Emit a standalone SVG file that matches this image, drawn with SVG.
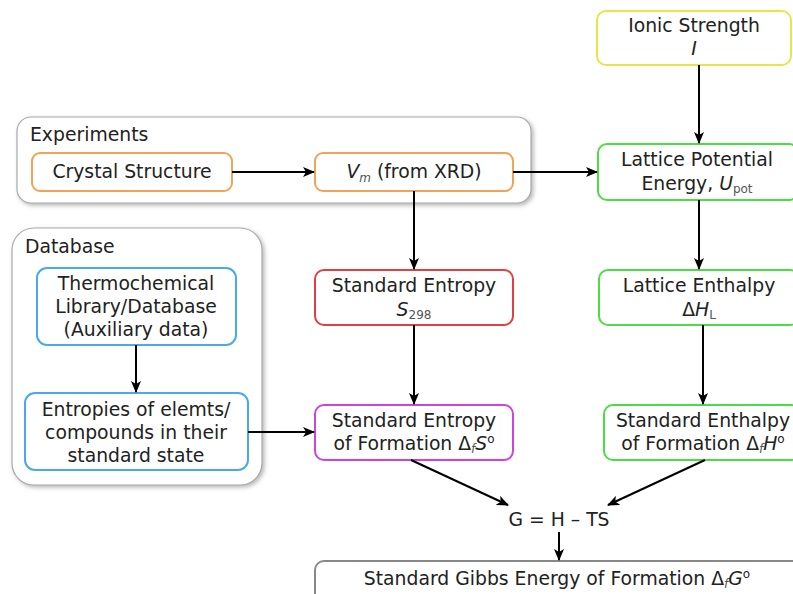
<svg xmlns="http://www.w3.org/2000/svg" width="793" height="594" viewBox="0 0 793 594">
<style>
text{font-family:"DejaVu Sans","Liberation Sans",sans-serif;font-size:18.8px;fill:#222;text-anchor:middle}
.lbl{text-anchor:start}
.box{fill:#fff;stroke-width:2}
.cont{fill:#fff;stroke:#aaa;stroke-width:1.2}
.edge{stroke:#000;stroke-width:2;fill:none}
.sub{font-size:12px;fill:#555}
.it{font-style:italic}
</style>
<defs>
<marker id="ah" viewBox="0 0 12 10" refX="11" refY="5" markerWidth="12" markerHeight="10" markerUnits="userSpaceOnUse" orient="auto">
<path d="M0,0 L12,5 L0,10 L3,5 z" fill="#000"/>
</marker>
<filter id="sh" x="-5%" y="-5%" width="112%" height="115%">
<feDropShadow dx="2" dy="2" stdDeviation="2" flood-color="#888" flood-opacity="0.6"/>
</filter>
</defs>
<g id="experiments">
<rect class="cont" x="17" y="117" width="514" height="86" rx="14" filter="url(#sh)"/>
<text class="lbl" x="30" y="141">Experiments</text>
</g>
<g id="database">
<rect class="cont" x="12" y="228" width="250" height="257" rx="22" filter="url(#sh)"/>
<text class="lbl" x="25" y="253">Database</text>
</g>
<g id="ionic">
<rect class="box" x="597" y="11" width="194" height="54" rx="9" stroke="#e6e64a"/>
<text x="694" y="32">Ionic Strength</text>
<text x="694" y="55" class="it">I</text>
</g>
<g id="crystal">
<rect class="box" x="32" y="153" width="200" height="38" rx="8" stroke="#f0a458"/>
<text x="132" y="178">Crystal Structure</text>
</g>
<g id="vm">
<rect class="box" x="315" y="153" width="198" height="38" rx="8" stroke="#f0a458"/>
<text x="414" y="178"><tspan class="it">V</tspan><tspan class="sub it" dy="4">m</tspan><tspan dy="-4"> (from XRD)</tspan></text>
</g>
<g id="lpe">
<rect class="box" x="598" y="144" width="200" height="56" rx="9" stroke="#4cdc44"/>
<text x="697" y="166">Lattice Potential</text>
<text x="697" y="190">Energy, <tspan class="it">U</tspan><tspan class="sub" dy="3">pot</tspan></text>
</g>
<g id="thermo">
<rect class="box" x="37" y="268" width="199" height="77" rx="10" stroke="#4aaae8"/>
<text x="136" y="290">Thermochemical</text>
<text x="136" y="313">Library/Database</text>
<text x="136" y="336">(Auxiliary data)</text>
</g>
<g id="entropies">
<rect class="box" x="25" y="393" width="223" height="77" rx="10" stroke="#4aaae8"/>
<text x="136" y="416">Entropies of elemts/</text>
<text x="136" y="439">compounds in their</text>
<text x="136" y="462">standard state</text>
</g>
<g id="s298">
<rect class="box" x="315" y="270" width="198" height="55" rx="9" stroke="#e04040"/>
<text x="414" y="292">Standard Entropy</text>
<text x="414" y="316"><tspan class="it">S</tspan><tspan class="sub" dy="3">298</tspan></text>
</g>
<g id="lattice_enthalpy">
<rect class="box" x="599" y="270" width="200" height="55" rx="9" stroke="#4cdc44"/>
<text x="699" y="292">Lattice Enthalpy</text>
<text x="699" y="316">Δ<tspan class="it">H</tspan><tspan class="sub" dy="3">L</tspan></text>
</g>
<g id="dfs">
<rect class="box" x="315" y="405" width="198" height="55" rx="9" stroke="#cc44dd"/>
<text x="414" y="427">Standard Entropy</text>
<text x="414" y="450">of Formation Δ<tspan class="sub it" dy="3">f</tspan><tspan class="it" dy="-3">S</tspan><tspan dy="-7" font-size="12">o</tspan></text>
</g>
<g id="dfh">
<rect class="box" x="604" y="405" width="196" height="55" rx="9" stroke="#4cdc44"/>
<text x="703" y="427">Standard Enthalpy</text>
<text x="703" y="450">of Formation Δ<tspan class="sub it" dy="3">f</tspan><tspan class="it" dy="-3">H</tspan><tspan dy="-7" font-size="12">o</tspan></text>
</g>
<g id="gibbs_eq">
<text x="559" y="526">G = H – TS</text>
</g>
<g id="gibbs">
<rect class="box" x="315" y="561" width="500" height="50" rx="9" stroke="#888"/>
<text x="557" y="585">Standard Gibbs Energy of Formation Δ<tspan class="sub it" dy="3">f</tspan><tspan class="it" dy="-3">G</tspan><tspan dy="-7" font-size="12">o</tspan></text>
</g>
<g id="connectors">
<line class="edge" x1="232" y1="172" x2="314" y2="172" marker-end="url(#ah)"/>
<line class="edge" x1="513" y1="172" x2="597" y2="172" marker-end="url(#ah)"/>
<line class="edge" x1="699" y1="65" x2="699" y2="143" marker-end="url(#ah)"/>
<line class="edge" x1="414" y1="191" x2="414" y2="269" marker-end="url(#ah)"/>
<line class="edge" x1="699" y1="200" x2="699" y2="269" marker-end="url(#ah)"/>
<line class="edge" x1="136" y1="345" x2="136" y2="392" marker-end="url(#ah)"/>
<line class="edge" x1="248" y1="432" x2="314" y2="432" marker-end="url(#ah)"/>
<line class="edge" x1="414" y1="325" x2="414" y2="404" marker-end="url(#ah)"/>
<line class="edge" x1="703" y1="325" x2="703" y2="404" marker-end="url(#ah)"/>
<line class="edge" x1="411" y1="460" x2="508" y2="505" marker-end="url(#ah)"/>
<line class="edge" x1="705" y1="460" x2="608" y2="505" marker-end="url(#ah)"/>
<line class="edge" x1="559" y1="532" x2="559" y2="560" marker-end="url(#ah)"/>
</g>
</svg>
